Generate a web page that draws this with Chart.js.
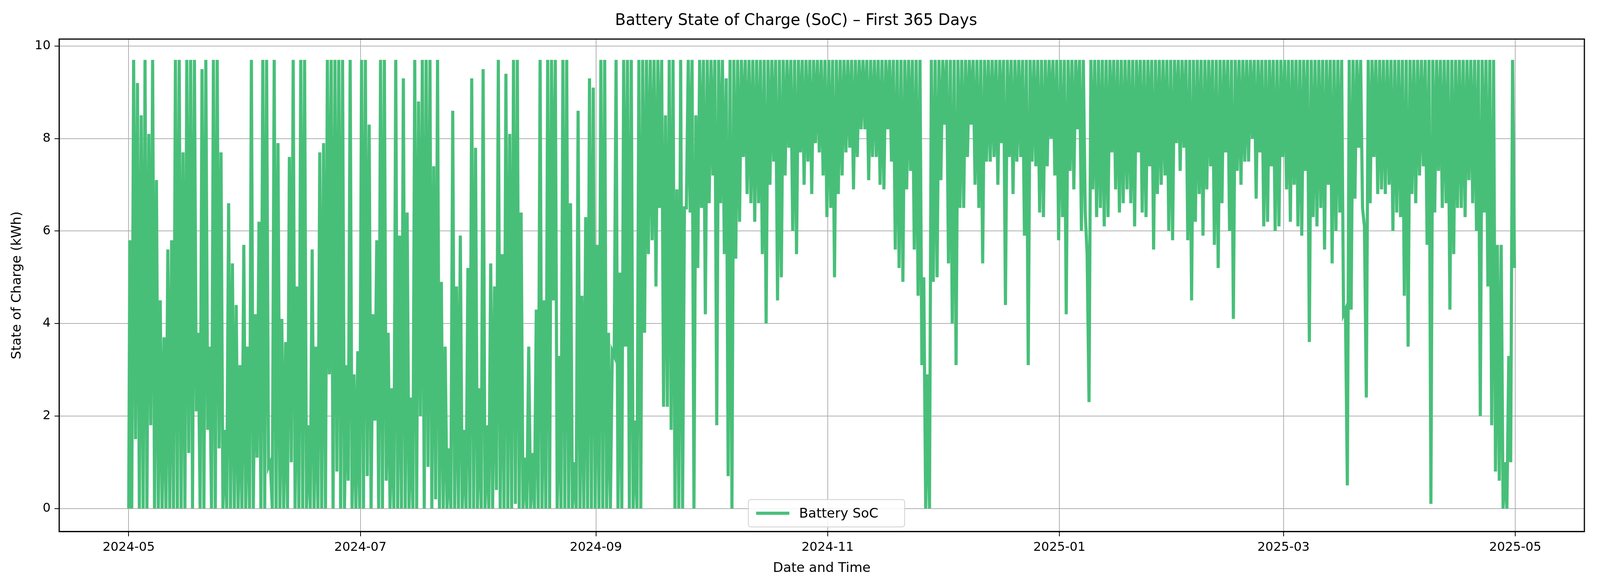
<!DOCTYPE html>
<html lang="en">
<head>
<meta charset="UTF-8">
<title>Battery SoC</title>
<script src="https://cdn.jsdelivr.net/npm/chart.js"></script>
<style>
  html, body { margin: 0; padding: 0; background: #fff; overflow: hidden; }
  #wrap { width: 100vw; height: 100vh; position: relative; }
</style>
</head>
<body>
<div id="wrap"><canvas id="soc"></canvas></div>
<script>
// daily maximum / minimum state of charge (kWh)
const mayHigh = [5.8,9.7,9.2,8.5,9.7,8.1,9.7,7.1,4.5,3.7,5.6,5.8,9.7,9.7,7.7,9.7,9.7,9.7,3.8,9.5,9.7,3.5,9.7,9.7,7.7,1.7,6.6,5.3,4.4,3.1,5.7];
const mayLow  = [0,1.5,0,0,0,1.8,0,0,0,0,0,0,0,0,0,1.2,0,2.1,0,0,1.7,0,0,1.3,0,0,0,0,0,0,0];
const junHigh = [3.5,9.7,4.2,6.2,9.7,9.7,1.0,9.7,7.9,4.1,3.6,7.6,9.7,4.8,9.7,9.7,1.8,5.6,3.5,7.7,7.9,9.7,9.7,9.7,9.7,9.7,3.1,9.7,2.9,3.4];
const junLow  = [0,0,1.1,0,0,0.9,0,0,0,0,0,1.0,0,0,0,0,0,0,0,0,0,2.9,0,0.8,0,0,0.6,0,0,0];
const julHigh = [9.7,9.7,8.3,4.2,5.8,9.7,9.7,3.8,2.6,9.7,5.9,9.3,6.4,2.4,9.7,8.8,9.7,9.7,9.7,7.4,9.7,4.9,3.5,1.3,8.6,4.8,5.9,1.7,5.2,9.3,7.8];
const julLow  = [0,0.7,0,1.9,0,0,0.6,0,0,0,0,0,0,0,0,2.0,0,0.9,0,0.2,0,0,0,0,0,0,0,0,0,0,0];
const augHigh = [2.6,9.5,1.8,5.3,4.8,9.7,5.5,9.4,8.1,9.7,9.7,6.4,1.1,3.5,1.2,4.3,9.7,4.5,9.7,9.7,9.7,3.3,9.7,9.7,6.6,1.0,8.6,4.6,6.3,9.3,9.1];
const augLow  = [0,0,0,0,0.4,0,0,0,0,0.1,0,0,0,0,0,0,0,0,0,4.5,0,0,0,0,0,0,0,0,0,0,0];
const sepHigh = [5.7,9.7,9.7,3.8,3.4,9.7,5.1,9.7,9.7,9.7,1.9,9.7,9.7,9.7,9.7,9.7,9.7,9.7,8.5,9.7,9.7,6.9,9.7,6.5,9.7,9.7,8.5,9.7,9.7,9.7];
const sepLow  = [0,0,0,0,3.3,0,0,3.5,0,0,0,0,3.8,5.5,5.8,4.8,6.5,2.2,2.2,1.7,0,0,0,6.5,6.4,0,5.2,6.5,4.2,6.6];
const octHigh = [9.7,9.7,9.7,9.7,9.3,9.7,9.7,9.7,9.7,9.7,9.7,9.7,9.7,9.7,9.7,9.7,9.7,9.7,9.7,9.7,9.7,9.7,9.7,9.7,9.7,9.7,9.7,9.7,9.7,9.7,9.7];
const octLow  = [7.2,1.8,6.6,5.5,0.7,0,5.4,6.2,7.6,6.8,6.6,6.2,6.6,5.5,4.0,7.0,7.5,4.5,5.0,7.2,7.8,6.0,5.5,7.7,7.0,7.5,6.8,7.9,7.7,7.2,6.3];
const novHigh = [9.7,9.7,9.7,9.7,9.7,9.7,9.7,9.7,9.7,9.7,9.7,9.7,9.7,9.7,9.7,9.7,9.7,9.7,9.7,9.7,9.7,9.7,9.7,9.7,9.7,5.0,2.9,9.7,9.7,9.7];
const novLow  = [6.5,5.0,6.8,7.2,7.7,7.8,6.9,7.6,8.2,8.2,7.1,7.6,7.6,7.0,6.9,8.2,7.5,5.6,5.2,4.9,6.9,7.3,5.6,4.6,3.1,0,0,4.9,5.0,7.1];
const decHigh = [9.7,9.7,9.7,9.7,9.7,9.7,9.7,9.7,9.7,9.7,9.7,9.7,9.7,9.7,9.7,9.7,9.7,9.7,9.7,9.7,9.7,9.7,9.7,9.7,9.7,9.7,9.7,9.7,9.7,9.7,9.7];
const decLow  = [8.3,5.3,4.0,3.1,6.5,6.5,7.6,8.3,7.0,6.5,5.3,7.5,7.5,7.6,7.0,7.9,4.4,7.6,6.8,7.5,7.6,5.9,3.1,7.5,7.4,6.4,6.3,7.4,8.0,7.2,5.8];
const janHigh = [9.7,9.7,9.7,9.7,9.7,9.7,9.7,5.5,9.7,9.7,9.7,9.7,9.7,9.7,9.7,9.7,9.7,9.7,9.7,9.7,9.7,9.7,9.7,9.7,9.7,9.7,9.7,9.7,9.7,9.7,9.7];
const janLow  = [6.3,4.2,7.3,6.9,8.2,6.0,6.4,2.3,6.9,6.3,6.5,6.1,6.3,7.7,6.9,6.4,6.6,6.9,6.6,6.1,7.7,6.4,6.3,7.4,5.6,6.8,7.0,7.2,6.0,5.8,7.9];
const febHigh = [9.7,9.7,9.7,9.7,9.7,9.7,9.7,9.7,9.7,9.7,9.7,9.7,9.7,9.7,9.7,9.7,9.7,9.7,9.7,9.7,9.7,9.7,9.7,9.7,9.7,9.7,9.7,9.7];
const febLow  = [7.3,7.8,5.8,4.5,6.2,6.8,5.9,6.9,7.4,5.7,5.2,6.6,7.7,6.0,4.1,7.3,7.0,7.5,7.5,8.0,6.7,7.7,6.1,6.2,7.4,6.0,6.1,7.6];
const marHigh = [9.7,9.7,9.7,9.7,9.7,9.7,9.7,9.7,9.7,9.7,9.7,9.7,9.7,9.7,9.7,9.7,4.3,9.7,9.7,9.7,9.7,6.1,9.7,9.7,9.7,9.7,9.7,9.7,9.7,9.7,9.7];
const marLow  = [6.9,6.2,7.0,6.1,5.9,7.3,3.6,6.3,6.1,6.5,5.6,7.0,5.3,6.0,6.4,4.2,0.5,4.3,6.7,7.8,6.5,2.4,6.6,7.6,6.8,6.9,6.8,7.0,6.0,6.4,6.3];
const aprHigh = [9.7,9.7,9.7,9.7,9.7,9.7,9.7,9.7,9.7,9.7,9.7,9.7,9.7,9.7,9.7,9.7,9.7,9.7,9.7,9.7,9.7,9.7,9.7,9.7,9.7,5.7,5.7,1.0,3.3,9.7];
const aprLow  = [4.6,3.5,6.8,6.6,7.2,7.4,5.7,0.1,6.4,7.3,6.5,6.6,4.3,5.5,6.5,6.5,6.3,7.1,6.6,6.0,2.0,6.4,4.8,1.8,0.8,0.6,0,0,1.0,5.2];

// x tick positions (days since 2024-05-01) and their labels
const tickDays   = [0, 61, 123, 184, 245, 304, 365];
const tickLabels = ['2024-05', '2024-07', '2024-09', '2024-11', '2025-01', '2025-03', '2025-05'];

const dailyHigh = [].concat(mayHigh, junHigh, julHigh, augHigh, sepHigh, octHigh, novHigh, decHigh, janHigh, febHigh, marHigh, aprHigh);
const dailyLow  = [].concat(mayLow, junLow, julLow, augLow, sepLow, octLow, novLow, decLow, janLow, febLow, marLow, aprLow);

const points = [{x: 0, y: 0}];
for (let d = 0; d < dailyHigh.length; d++) {
  points.push({x: d + 0.3, y: dailyHigh[d]});
  points.push({x: d + 0.8, y: dailyLow[d]});
}

// everything was sized for a 4500px wide page; scale to what the window really is
const k = window.innerWidth / 4500 * 1.1;
const px = (v) => Math.round(v * k);

const green = '#48bf79';
const FONT = 'DejaVu Sans';

// matplotlib-style legend box inside the plot, bottom centre
const legendBox = {
  id: 'legendBox',
  afterDraw(chart) {
    const {ctx, chartArea} = chart;
    const w = px(400), h = px(70);
    const x = (chartArea.left + chartArea.right) / 2 - w / 2 + px(12);
    const y = chartArea.bottom - h - px(12);
    ctx.save();
    ctx.fillStyle = 'rgba(255,255,255,0.85)';
    ctx.strokeStyle = '#d0d0d0';
    ctx.lineWidth = px(2);
    ctx.beginPath();
    ctx.roundRect(x, y, w, h, px(6));
    ctx.fill();
    ctx.stroke();
    ctx.strokeStyle = green;
    ctx.lineWidth = px(8);
    ctx.beginPath();
    ctx.moveTo(x + px(20), y + h / 2);
    ctx.lineTo(x + px(105), y + h / 2);
    ctx.stroke();
    ctx.fillStyle = '#000';
    ctx.font = px(34) + 'px ' + FONT;
    ctx.textBaseline = 'middle';
    ctx.fillText(chart.data.datasets[0].label, x + px(130), y + h / 2 + px(2));
    ctx.restore();
  }
};

new Chart(document.getElementById('soc'), {
  type: 'line',
  data: {
    datasets: [{
      label: 'Battery SoC',
      data: points,
      borderColor: green,
      borderWidth: px(8),
      pointRadius: 0,
      tension: 0,
      fill: false
    }]
  },
  options: {
    responsive: true,
    maintainAspectRatio: false,
    animation: false,
    layout: { padding: { left: px(20), right: px(40), top: px(10), bottom: px(20) } },
    plugins: {
      legend: { display: false },
      tooltip: { enabled: false },
      title: {
        display: true,
        text: 'Battery State of Charge (SoC) \u2013 First 365 Days',
        color: '#000',
        font: { family: FONT, size: px(40), weight: 'normal' },
        padding: { top: px(20), bottom: px(22) }
      }
    },
    scales: {
      x: {
        type: 'linear',
        min: -18.3,
        max: 383.2,
        afterBuildTicks(axis) { axis.ticks = tickDays.map(v => ({value: v})); },
        ticks: {
          color: '#000',
          font: { family: FONT, size: px(32) },
          padding: px(10),
          maxRotation: 0,
          callback: (v) => tickLabels[tickDays.indexOf(v)]
        },
        grid: { color: '#b0b0b0', lineWidth: px(2), tickLength: px(12), tickColor: '#000' },
        border: { color: '#000', width: px(3) },
        title: { display: true, text: 'Date and Time', color: '#000', font: { family: FONT, size: px(34) }, padding: { top: px(4) } }
      },
      y: {
        min: -0.5,
        max: 10.15,
        afterBuildTicks(axis) { axis.ticks = [0, 2, 4, 6, 8, 10].map(v => ({value: v})); },
        ticks: { color: '#000', font: { family: FONT, size: px(32) }, padding: px(10) },
        grid: { color: '#b0b0b0', lineWidth: px(2), tickLength: px(12), tickColor: '#000' },
        border: { color: '#000', width: px(3) },
        title: { display: true, text: 'State of Charge (kWh)', color: '#000', font: { family: FONT, size: px(34) }, padding: { bottom: px(14) } }
      }
    }
  },
  plugins: [legendBox, {
    id: 'frame',
    afterDraw(chart) {
      const {ctx, chartArea: a} = chart;
      ctx.save();
      ctx.strokeStyle = '#000';
      ctx.lineWidth = px(3);
      ctx.strokeRect(a.left, a.top, a.right - a.left, a.bottom - a.top);
      ctx.restore();
    }
  }]
});
</script>
</body>
</html>
